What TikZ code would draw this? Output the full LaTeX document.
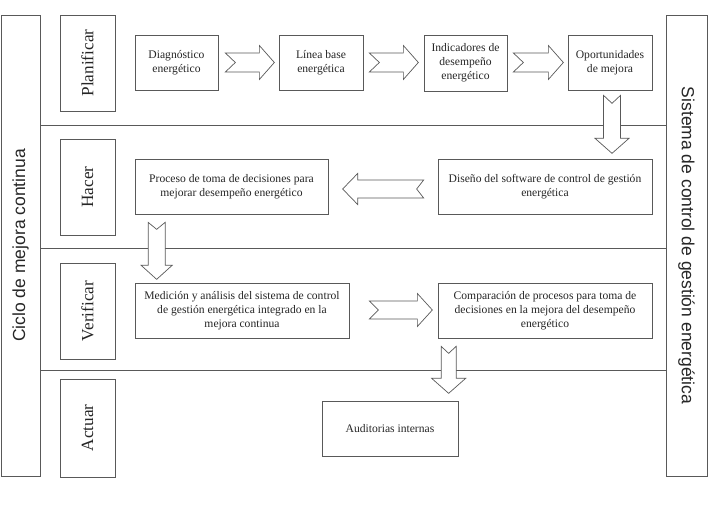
\documentclass[tikz,border=0pt]{standalone}
\usepackage{fontspec}
\setmainfont{Liberation Serif}
\newfontfamily\sidefont{Liberation Sans}
\usetikzlibrary{calc}
\begin{document}
\begin{tikzpicture}[x=1pt,y=1pt,
  frame/.style={draw=black!65, line width=0.7pt},
  box/.style={frame, fill=white, align=center, inner sep=2pt,
    font=\fontsize{11.6}{14}\selectfont, text=black!85},
  phasebox/.style={frame, rotate=90, minimum height=55pt, inner sep=0pt,
    font=\fontsize{17.2}{20}\selectfont, text=black!85},
  sidebox/.style={frame, inner sep=0pt, minimum width=461pt,
    font=\sidefont\fontsize{17.5}{20}\selectfont, text=black!85},
  barrow/.style={frame, fill=white, line join=miter}
]
\useasboundingbox (0,0) rectangle (709,513);

% side boxes
\node[sidebox, rotate=90, minimum height=39pt] (ciclo) at (20.5,267.5) {Ciclo de mejora continua};
\node[sidebox, rotate=-90, minimum height=41pt] (sistema) at (686.5,267.5) {Sistema de control de gestión energética};

% dividers
\draw[frame] (40,388) -- (666,388);
\draw[frame] (40,265) -- (666,265);
\draw[frame] (40,143) -- (666,143);

% phase boxes
\node[phasebox, minimum width=96pt] (plan) at (87.5,450) {Planificar};
\node[phasebox, minimum width=96pt] (hacer) at (87.5,326) {Hacer};
\node[phasebox, minimum width=96pt] (verif) at (87.5,202) {Verificar};
\node[phasebox, minimum width=98pt] (actuar) at (87.5,85) {Actuar};

% content boxes
\node[box, minimum width=83pt, minimum height=55pt] (diag) at (176.5,450.5) {Diagnóstico\\energético};
\node[box, minimum width=84pt, minimum height=55pt] (linea) at (321,450.5) {Línea base\\energética};
\node[box, minimum width=83pt, minimum height=56pt] (indic) at (465.5,450) {Indicadores de\\desempeño\\energético};
\node[box, minimum width=84pt, minimum height=55pt] (oport) at (610,450.5) {Oportunidades\\de mejora};
\node[box, minimum width=193pt, minimum height=55pt] (proceso) at (231.5,326.5) {Proceso de toma de decisiones para\\mejorar desempeño energético};
\node[box, minimum width=214pt, minimum height=55pt] (diseno) at (545,326.5) {Diseño del software de control de gestión\\energética};
\node[box, minimum width=214pt, minimum height=55pt] (medicion) at (242,202.5) {Medición y análisis del sistema de control\\de gestión energética integrado en la\\mejora continua};
\node[box, minimum width=214pt, minimum height=55pt] (compar) at (545,202.5) {Comparación de procesos para toma de\\decisiones en la mejora del desempeño\\energético};
\node[box, minimum width=136pt, minimum height=55pt] (audit) at (390,84.5) {Auditorias internas};

% block arrows
% diag -> linea
\draw[barrow, shift={($(diag.east)+(7,0)$)}]
  (0,9.5) -- (34,9.5) -- (34,17) -- (49,0) -- (34,-17) -- (34,-9.5) -- (0,-9.5) -- (10,0) -- cycle;
% linea -> indic
\draw[barrow, shift={($(linea.east)+(6,0)$)}]
  (0,9.5) -- (34,9.5) -- (34,17) -- (49,0) -- (34,-17) -- (34,-9.5) -- (0,-9.5) -- (10,0) -- cycle;
% indic -> oport
\draw[barrow, shift={($(indic.east)+(6,0.5)$)}]
  (0,9.5) -- (35,9.5) -- (35,17) -- (50,0) -- (35,-17) -- (35,-9.5) -- (0,-9.5) -- (10,0) -- cycle;
% oport -> diseno
\draw[barrow, shift={($(oport.south)+(2,-5)$)}]
  (-8.5,0) -- (-8.5,-43) -- (-17,-43) -- (0,-58) -- (17,-43) -- (8.5,-43) -- (8.5,0) -- (0,-8) -- cycle;
% diseno -> proceso
\draw[barrow, shift={($(diseno.west)+(-14,-2.5)$)}]
  (0,9) -- (-66,9) -- (-66,15.5) -- (-81,0) -- (-66,-15.5) -- (-66,-9) -- (0,-9) -- (-7,0) -- cycle;
% proceso -> medicion
\draw[barrow, shift={($(proceso.south west)+(22,-8)$)}]
  (-8.5,0) -- (-8.5,-43) -- (-15.5,-43) -- (0,-57) -- (15.5,-43) -- (8.5,-43) -- (8.5,0) -- (0,-7) -- cycle;
% medicion -> compar
\draw[barrow, shift={($(medicion.east)+(20,0.5)$)}]
  (0,9) -- (48,9) -- (48,16.5) -- (63,0) -- (48,-16.5) -- (48,-9) -- (0,-9) -- (9,0) -- cycle;
% compar -> audit
\draw[barrow, shift={($(compar.south west)+(11,-8)$)}]
  (-7.5,0) -- (-7.5,-32) -- (-17,-32) -- (0,-47) -- (17,-32) -- (7.5,-32) -- (7.5,0) -- (0,-7) -- cycle;
\end{tikzpicture}
\end{document}
